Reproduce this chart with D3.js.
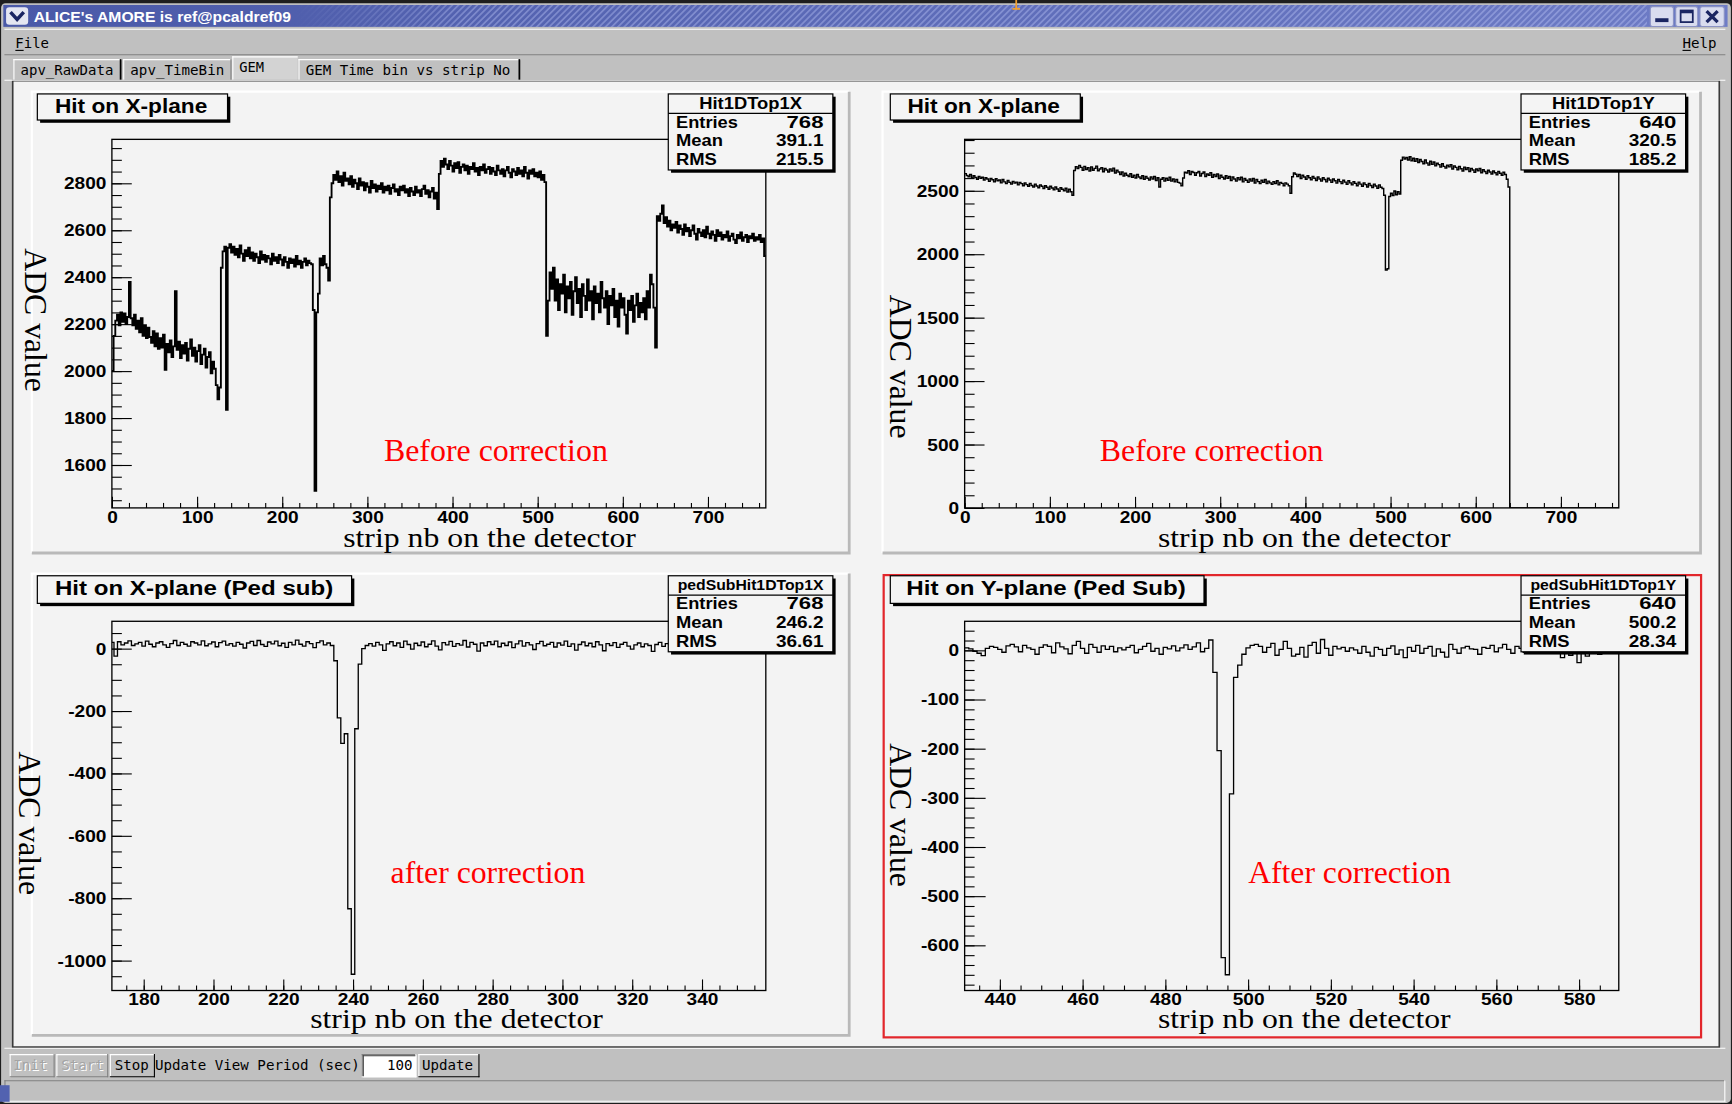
<!DOCTYPE html>
<html>
<head>
<meta charset="utf-8">
<script src="https://cdn.jsdelivr.net/npm/d3@7"></script>
<style>
html, body { margin: 0; padding: 0; background: #1e1e1e; overflow: hidden; }
svg { display: block; }
</style>
</head>
<body>
<svg id="screen" width="1732" height="1104"></svg>
<script>
// ---- data ----
// raw X plane, one value per pair of strips (768 strips)
var hitX = [
2000,2150,2215,2240,2195,2250,2210,2245,2200,2230,
2380,2225,2195,2240,2180,2215,2165,2225,2150,2195,
2140,2185,2145,2120,2170,2105,2160,2095,2140,2100,
2155,2005,2115,2080,2130,2060,2105,2340,2090,2125,
2055,2110,2075,2120,2045,2095,2135,2065,2100,2040,
2085,2110,2030,2070,2095,2015,2060,2080,1990,2040,
2010,1940,1880,1930,
2440,2510,2530,1835,2525,
2540,2505,2530,2495,2520,2485,2535,2500,2470,2515,
2490,2525,2480,2505,2470,2500,2485,2460,2510,2475,
2495,2465,2490,2480,2455,2500,2470,2485,2460,2495,
2475,2450,2485,2465,2440,2480,2460,2475,2445,2490,
2455,2470,2440,2465,2480,2450,2470,2460,2455,
2260,1490,2250,2330,2480,2450,2490,2455,2440,2385,
2740,
2800,2835,2815,2850,2805,2830,2790,2845,2810,2820,
2795,2830,2785,2815,2800,2775,2820,2790,2805,2770,
2800,2785,2760,2810,2780,2795,2765,2790,2775,2800,
2760,2785,2770,2790,2755,2780,2795,2765,2775,2750,
2785,2770,2790,2760,2775,2745,2780,2765,2750,2785,
2760,2770,2745,2775,2790,2755,2770,2740,2765,2780,
2735,2760,
2690,
2840,
2895,2870,2905,2880,2860,2895,2875,2850,2885,2865,
2890,2845,2870,2880,2855,2875,2840,2870,2860,2885,
2850,2865,2835,2870,2855,2880,2845,2860,2870,2840,
2865,2850,2835,2875,2855,2840,2860,2830,2855,2870,
2845,2825,2860,2850,2835,2865,2840,2855,2830,2870,
2845,2820,2855,2840,2860,2830,2845,2825,2850,2815,
2835,2805,
2150,
2300,2420,
2350,2440,2300,2390,2260,2370,2330,2410,2250,2360,
2310,2380,2240,2340,2400,2290,2350,2230,2370,2320,
2260,2390,2300,2340,2220,2360,2290,2330,2250,2380,
2310,2270,2340,2200,2320,2280,2350,2230,2300,2190,
2330,2270,2310,2240,2160,2300,2260,2320,2210,2280,
2330,2230,2290,2250,2310,2220,2340,2270,
2410,2370,2270,2100,
2660,2640,2670,2705,
2630,2655,2615,2640,2600,2625,2610,2635,2590,2620,
2605,2580,2625,2595,2610,2575,2600,2620,2585,2560,
2605,2590,2575,2600,2570,2615,2585,2565,2595,2580,
2555,2600,2575,2590,2560,2580,2570,2595,2555,2575,
2585,2560,2545,2580,2565,2590,2555,2570,2580,2550,
2575,2565,2585,2555,2570,2560,2580,2550,2565,
2490
];

// raw Y plane, one value per pair of strips, strips 640-767 are empty
var hitY = [
2635,2620,2610,2628,2600,2618,2604,2590,2612,2598,
2606,2584,2602,2592,2574,2596,2586,2570,2594,2578,
2584,2562,2588,2570,2556,2580,2566,2552,2574,2560,
2568,2546,2566,2556,2540,2562,2548,2536,2558,2542,
2530,2552,2538,2524,2546,2536,2518,2540,2528,2512,
2536,2522,2508,2530,2514,2496,2524,2512,2500,2520,
2490,2512,2492,2465,
2660,2690,
2675,2700,2684,2662,2692,2668,2682,2656,2688,2662,
2676,2694,2658,2672,2682,2650,2676,2664,2648,2672,
2656,2678,2640,2662,2648,2628,2648,2616,2638,2622,
2612,2634,2606,2622,2600,2628,2608,2596,2618,2590,
2612,2598,2584,2608,2592,2612,2580,2602,2530,2590,
2602,2576,2598,2582,2606,2576,2592,2570,2588,2566,
2560,
2540,
2600,2645,
2640,2658,2628,2652,2644,2622,2642,2652,2616,2636,
2648,2612,2632,2622,2642,2606,2628,2612,2632,2596,
2622,2606,2592,2618,2598,2612,2580,2608,2592,2576,
2602,2586,2606,2570,2596,2582,2566,2592,2576,2596,
2560,2588,2572,2556,2582,2566,2588,2556,2576,2562,
2550,2572,2556,2578,2546,2566,2558,2540,2562,2552,
2540,
2480,
2610,2640,
2630,2612,2628,2596,2622,2608,2590,2618,2602,2586,
2612,2598,2580,2608,2592,2576,2602,2588,2570,2598,
2584,2566,2592,2578,2560,2588,2572,2556,2582,2568,
2550,2578,2562,2546,2572,2558,2540,2568,2552,2536,
2562,2548,2530,2558,2542,2526,2552,2538,2520,2546,
2528,2518,
2465,1875,1885,2455,
2480,2462,2498,2468,2492,2475,
2740,2765,
2750,2762,2742,2768,2736,2756,2732,2752,2722,2746,
2730,2712,2742,2718,2702,2732,2708,2726,2696,2716,
2706,2686,2712,2692,2678,2702,2688,2706,2672,2696,
2684,2666,2692,2674,2656,2686,2668,2682,2652,2676,
2664,2646,2672,2658,2676,2642,2666,2652,2636,2662,
2648,2632,2656,2642,2626,2652,2638,2622,2646,2628,
2590,2530
];
var hitYNbins = 768;

// pedestal subtracted X plane, strips 171..358
var pedXFirst = 171;
var pedX = [
20,-24,
22,12,18,25,10,15,20,8,24,14,
6,18,22,12,4,16,26,10,20,14,
8,22,18,12,25,9,15,21,6,19,
24,11,16,8,20,14,2,18,23,10,
26,13,7,21,15,24,9,17,4,20,
12,27,14,8,22,16,3,19,25,12,
18,10,
-39,-222,-304,-273,-834,-1044,-257,-50,
0,
10,16,8,20,12,-6,15,22,9,18,
4,24,13,-2,17,10,21,6,14,25,
8,-4,19,12,23,7,16,11,26,5,
20,14,-8,18,9,22,13,24,6,17,
10,21,3,15,25,8,19,12,-3,16,
23,9,14,20,5,18,11,24,7,15,
-5,13,21,9,17,6,22,12,-7,16,
10,19,4,14,20,8,-2,12,18,6,
15,10,-9,13,20,7,16,11,22,5,
14,9,18,-4,12,8,17,10,6,15,
-6,11,19,8,13,4,16,9,12,-10,
14,7,10,5,12
];

// pedestal subtracted Y plane, strips 432..589
var pedYFirst = 432;
var pedY = [
5,3,-2,-6,-11,4,8,6,2,-4,
9,12,7,-3,10,5,2,-8,6,11,
8,-5,15,7,3,-7,10,18,4,-6,
12,6,-4,9,2,8,-3,5,1,6,
10,-5,2,8,14,-2,4,-8,6,3,
9,-1,5,11,2,7,15,-3,4,21,
-45,-204,-625,-660,-292,-55,-30,-8,5,
10,12,8,-4,6,14,-10,2,18,4,
-12,-8,6,-14,10,16,-6,22,4,-10,
8,3,6,-2,5,1,-6,8,-4,-12,
6,2,-10,4,9,-8,1,-15,6,-2,
10,-6,4,8,-12,3,-4,-14,12,2,
-6,5,8,3,2,-8,6,4,10,-3,
5,12,2,-6,8,4,-4,3,6,-2,
8,1,-5,4,2,-15,6,-10,8,-25,
4,-12,6,2,-8,5,3,-6,4
];

// axis ticks
var xTicksRaw = [0, 100, 200, 300, 400, 500, 600, 700];
var yTicksHitX = [1600, 1800, 2000, 2200, 2400, 2600, 2800];
var yTicksHitY = [0, 500, 1000, 1500, 2000, 2500];
var xTicksPedX = [180, 200, 220, 240, 260, 280, 300, 320, 340];
var yTicksPedX = [-1000, -800, -600, -400, -200, 0];
var xTicksPedY = [440, 460, 480, 500, 520, 540, 560, 580];
var yTicksPedY = [-600, -500, -400, -300, -200, -100, 0];

// texts
var padTitles = ["Hit on X-plane", "Hit on X-plane", "Hit on X-plane (Ped sub)", "Hit on Y-plane (Ped Sub)"];
var statNames = ["Hit1DTop1X", "Hit1DTop1Y", "pedSubHit1DTop1X", "pedSubHit1DTop1Y"];
var statEntries = ["768", "640", "768", "640"];
var statMean = ["391.1", "320.5", "246.2", "500.2"];
var statRms = ["215.5", "185.2", "36.61", "28.34"];
var notes = ["Before correction", "Before correction", "after correction", "After correction"];
var tabNames = ["apv_RawData", "apv_TimeBin", "GEM", "GEM Time bin vs strip No"];

// ---- layout (drawn in 1568x999 units, scaled to the window) ----
var svg = d3.select("#screen");
var defs = svg.append("defs");
var root = svg.append("g").attr("transform", "scale(" + (1732 / 1568) + "," + (1104 / 999) + ")");

var SANS = "'Liberation Sans', Arial, Helvetica, sans-serif";
var SERIF = "'Liberation Serif', 'Times New Roman', serif";
var MONO = "'DejaVu Sans Mono', monospace";
var CANVAS = "#f3f3f3";

function rect(g, x, y, w, h, fill, stroke, sw) {
    return g.append("rect").attr("x", x).attr("y", y).attr("width", w).attr("height", h)
        .attr("fill", fill || "none").attr("stroke", stroke || "none").attr("stroke-width", sw || 1);
}
function line(g, x1, y1, x2, y2, c, w) {
    return g.append("line").attr("x1", x1).attr("y1", y1).attr("x2", x2).attr("y2", y2)
        .attr("stroke", c).attr("stroke-width", w || 1);
}
function text(g, x, y, s, font, size, opts) {
    opts = opts || {};
    var t = g.append("text").attr("x", x).attr("y", y).text(s)
        .attr("font-family", font).attr("font-size", size)
        .attr("fill", opts.fill || "#000")
        .attr("font-weight", opts.bold ? "bold" : "normal")
        .attr("text-anchor", opts.anchor || "start");
    if (opts.len) t.attr("textLength", opts.len).attr("lengthAdjust", "spacingAndGlyphs");
    return t;
}
// raised/sunken 3d frame like the X11 widgets
function bevel(g, x, y, w, h, raised, dark) {
    var lt = raised ? "#ffffff" : "#808080", rb = raised ? "#808080" : "#ffffff";
    line(g, x, y + 0.5, x + w, y + 0.5, lt, 1);
    line(g, x + 0.5, y, x + 0.5, y + h, lt, 1);
    line(g, x, y + h - 0.5, x + w, y + h - 0.5, dark ? "#000" : rb, 1);
    line(g, x + w - 0.5, y, x + w - 0.5, y + h, dark ? "#000" : rb, 1);
}

// window and title bar
rect(root, 0, 0, 1568, 999, "#1e1e1e");
root.append("rect").attr("x", 1).attr("y", 3).attr("width", 1566).attr("height", 995).attr("rx", 4).attr("fill", "#c0c0c0");

var grad = defs.append("linearGradient").attr("id", "tbar").attr("x1", 0).attr("x2", 1).attr("y1", 0).attr("y2", 0);
grad.append("stop").attr("offset", 0).attr("stop-color", "#4a59a8");
grad.append("stop").attr("offset", 1).attr("stop-color", "#6e7cc6");
var hatch = defs.append("pattern").attr("id", "hatch").attr("patternUnits", "userSpaceOnUse")
    .attr("width", 4).attr("height", 4).attr("patternTransform", "rotate(45)");
hatch.append("rect").attr("width", 1.6).attr("height", 4).attr("fill", "#c8d0ff").attr("opacity", 0.35);
var fadeG = defs.append("linearGradient").attr("id", "fadeG").attr("gradientUnits", "userSpaceOnUse")
    .attr("x1", 265).attr("x2", 420).attr("y1", 0).attr("y2", 0);
fadeG.append("stop").attr("offset", 0).attr("stop-color", "#000");
fadeG.append("stop").attr("offset", 1).attr("stop-color", "#fff");
defs.append("mask").attr("id", "fade").attr("maskUnits", "userSpaceOnUse")
    .attr("x", 0).attr("y", 0).attr("width", 1568).attr("height", 30)
    .append("rect").attr("x", 265).attr("y", 0).attr("width", 1240).attr("height", 30).attr("fill", "url(#fadeG)");

rect(root, 3, 4.5, 1561, 19.8, "url(#tbar)");
root.append("rect").attr("x", 265).attr("y", 4.5).attr("width", 1226).attr("height", 19.8)
    .attr("fill", "url(#hatch)").attr("mask", "url(#fade)");
root.append("rect").attr("x", 5.5).attr("y", 6.5).attr("width", 20).attr("height", 16).attr("rx", 3).attr("fill", "#e4e6f2");
root.append("path").attr("d", "M9.5,11 L15.5,17.5 L21.5,11").attr("fill", "none").attr("stroke", "#1a2562").attr("stroke-width", 3.2);
text(root, 30.5, 19.8, "ALICE's AMORE is ref@pcaldref09", SANS, 13, { bold: true, fill: "#fff", len: 233 });

// window buttons
[[1494, 21], [1517, 20], [1539, 22]].forEach(function(b) {
    root.append("rect").attr("x", b[0]).attr("y", 6).attr("width", b[1]).attr("height", 18).attr("rx", 2)
        .attr("fill", "#d9dcef").attr("stroke", "#8a92c4");
});
rect(root, 1498.5, 16.5, 12, 3.5, "#1a2562");
rect(root, 1521.5, 9.5, 11, 10.5, "none", "#1a2562", 1.6);
rect(root, 1521.5, 9.5, 11, 2.5, "#1a2562");
root.append("path").attr("d", "M1545,10 L1555,20 M1555,10 L1545,20").attr("stroke", "#1a2562").attr("stroke-width", 3);

// cursor on the desktop
root.append("path").attr("d", "M920,0 V8 M916.5,8 H923.5").attr("stroke", "#f0a030").attr("stroke-width", 1.6);

// menu bar
line(root, 4, 26.5, 1562, 26.5, "#ffffff", 1);
line(root, 4, 49.5, 1562, 49.5, "#808080", 1);
text(root, 13.9, 43.7, "File", MONO, 12.8, { len: 30.5 });
line(root, 13.9, 45.6, 21.4, 45.6, "#000", 1);
text(root, 1554, 43.7, "Help", MONO, 12.8, { anchor: "end" });
line(root, 1523.2, 45.6, 1530.7, 45.6, "#000", 1);

// tabs
var tabX = [[12.1, 110.2], [111.5, 209.6], [210.3, 269.5], [270.2, 471.2]];
var tabLen = [84, 85, 22.5, 185.3];
tabNames.forEach(function(name, i) {
    var on = (name === "GEM");
    var x0 = tabX[i][0], x1 = tabX[i][1], top = on ? 51 : 53.5;
    rect(root, x0, top, x1 - x0, 73 - top, on ? "#d3d3d3" : "#c0c0c0");
    line(root, x0 + 0.5, top, x0 + 0.5, 73, "#ffffff", 1);
    line(root, x0, top + 0.5, x1, top + 0.5, "#ffffff", 1);
    if (i === 0 || i === 3) line(root, x1 - 1, top, x1 - 1, 73, "#000", 1.6);
    else if (!on) line(root, x1 - 0.5, top, x1 - 0.5, 73, "#808080", 1);
    text(root, x0 + (on ? 6.2 : 6.5), on ? 65.2 : 67.9, name, MONO, 12.8, { len: tabLen[i] });
});

// ROOT canvas area
rect(root, 11.5, 73, 1545, 874.5, CANVAS, "#3a3a3a", 1.5);
line(root, 4, 72.6, 1562, 72.6, "#ffffff", 1);

// ---- the four pads ----
var panels = [
    { pad: [28.8, 83, 768.8, 500.4], frame: [101.3, 126.1, 693.3, 459.6],
      xdom: [0, 768], ydom: [1417, 2987], xt: xTicksRaw, xm: 20, yt: yTicksHitX, ym: 50, ylen: 18,
      vals: hitX, lo0: 0, w: 2, tail: null, lw: 1.7,
      title: [33.8, 85, 206, 108.6, 49.7, 102.4, 138], stats: [605, 85, 754, 153.8],
      yTitle: [23, 289.6], xTitle: [443.2, 495], note: [347.6, 417.2, 202.7] },
    { pad: [799, 83, 1539.5, 500.4], frame: [873.3, 126.1, 1465.5, 459.6],
      xdom: [0, 768], ydom: [0, 2905], xt: xTicksRaw, xm: 20, yt: yTicksHitY, ym: 100, ylen: 18,
      vals: hitY, lo0: 0, w: 2, tail: hitYNbins, lw: 1.3,
      title: [806, 85, 978, 108.6, 821.5, 102.4, 138], stats: [1377, 85, 1526, 153.8],
      yTitle: [805.5, 331.8], xTitle: [1180.8, 495], note: [995.7, 417.2, 202.5] },
    { pad: [28.8, 519, 768.8, 936.8], frame: [101.3, 562.2, 693.3, 896.3],
      xdom: [170.9, 358.3], ydom: [-1096, 87.5], xt: xTicksPedX, xm: 5, yt: yTicksPedX, ym: 50, ylen: 18,
      vals: pedX, lo0: pedXFirst - 0.5, w: 1, tail: null, lw: 1.2,
      title: [33.8, 521, 318.3, 546, 49.7, 538.1, 252], stats: [605, 521, 754, 589.8],
      yTitle: [17.5, 745], xTitle: [413.3, 930], note: [353.6, 799.3, 176.3] },
    { pad: [800, 520.4, 1540, 938.7], frame: [873.3, 562.2, 1465.5, 896.3],
      xdom: [431.5, 589.6], ydom: [-692, 59], xt: xTicksPedY, xm: 5, yt: yTicksPedY, ym: 20, ylen: 19,
      vals: pedY, lo0: pedYFirst - 0.5, w: 1, tail: null, lw: 1.2, red: true,
      title: [806, 521, 1090, 546, 820.5, 538.1, 253], stats: [1377, 521, 1526, 589.8],
      yTitle: [805.5, 737.5], xTitle: [1180.8, 930], note: [1130, 799.3, 183.7] }
];

function histPath(x, y, P) {
    var v = P.vals;
    var p = "M" + x(P.lo0) + "," + y(v[0]);
    v.forEach(function(d, i) {
        if (i > 0) p += "V" + y(d);
        p += "H" + x(P.lo0 + (i + 1) * P.w);
    });
    if (P.tail != null) p += "V" + y(0) + "H" + x(P.tail);
    return p;
}

// ROOT labels are wide bold Helvetica: stretch the glyphs to the measured widths
function styleAxis(g) {
    g.select(".domain").remove();
    g.selectAll("line").attr("stroke", "#000").attr("stroke-width", 1);
    g.selectAll("text").attr("font-family", SANS).attr("font-weight", "bold")
        .attr("font-size", 15.5).attr("fill", "#000")
        .each(function() {
            var s = this.textContent;
            if (!s) return;
            var L = 0;
            for (var i = 0; i < s.length; i++) L += (s[i] === "-") ? 5.8 : 9.6;
            d3.select(this).attr("textLength", L).attr("lengthAdjust", "spacingAndGlyphs");
        });
}

function minorTicks(dom, step) {
    return d3.range(Math.ceil(dom[0] / step) * step, dom[1] + 1e-6, step);
}

function boxWithShadow(g, x0, y0, x1, y1) {
    rect(g, x0 + 2.5, y0 + 2.5, x1 - x0, y1 - y0, "#000");
    rect(g, x0, y0, x1 - x0, y1 - y0, "#f4f4f4", "#000", 1.1);
}

panels.forEach(function(P, k) {
    var g = root.append("g");
    var pd = P.pad, f = P.frame;

    // pad with its 3d border
    rect(g, pd[0], pd[1], pd[2] - pd[0], pd[3] - pd[1], CANVAS);
    if (P.red) {
        rect(g, pd[0], pd[1], pd[2] - pd[0], pd[3] - pd[1], "none", "#e2262b", 2);
    } else {
        g.append("path").attr("d", "M" + pd[0] + "," + pd[3] + "V" + pd[1] + "H" + pd[2])
            .attr("fill", "none").attr("stroke", "#ffffff").attr("stroke-width", 2);
        g.append("path").attr("d", "M" + pd[0] + "," + pd[3] + "H" + pd[2] + "V" + pd[1])
            .attr("fill", "none").attr("stroke", "#b9b9b9").attr("stroke-width", 2.5);
    }

    var x = d3.scaleLinear().domain(P.xdom).range([f[0], f[2]]);
    var y = d3.scaleLinear().domain(P.ydom).range([f[3], f[1]]);

    // histogram, clipped to the frame
    var cid = "clip" + k;
    defs.append("clipPath").attr("id", cid).append("rect")
        .attr("x", f[0]).attr("y", f[1]).attr("width", f[2] - f[0]).attr("height", f[3] - f[1]);
    g.append("path").attr("d", histPath(x, y, P)).attr("clip-path", "url(#" + cid + ")")
        .attr("fill", "none").attr("stroke", "#000").attr("stroke-width", P.lw)
        .attr("stroke-linejoin", "miter");

    // frame
    rect(g, f[0], f[1], f[2] - f[0], f[3] - f[1], "none", "#000", 1.2);

    // axes, ticks inside the frame
    var fmt = function(d) { return String(d); };
    var gxm = g.append("g").attr("transform", "translate(0," + f[3] + ")")
        .call(d3.axisBottom(x).tickValues(minorTicks(P.xdom, P.xm)).tickSizeInner(-4.5).tickSizeOuter(0).tickFormat(""));
    styleAxis(gxm);
    var gx = g.append("g").attr("transform", "translate(0," + f[3] + ")")
        .call(d3.axisBottom(x).tickValues(P.xt).tickSizeInner(-10).tickSizeOuter(0).tickPadding(2.5).tickFormat(fmt));
    styleAxis(gx);
    var gym = g.append("g").attr("transform", "translate(" + f[0] + ",0)")
        .call(d3.axisLeft(y).tickValues(minorTicks(P.ydom, P.ym)).tickSizeInner(-9).tickSizeOuter(0).tickFormat(""));
    styleAxis(gym);
    var gy = g.append("g").attr("transform", "translate(" + f[0] + ",0)")
        .call(d3.axisLeft(y).tickValues(P.yt).tickSizeInner(-P.ylen).tickSizeOuter(0).tickPadding(5).tickFormat(fmt));
    styleAxis(gy);

    // statistics box
    var s = P.stats;
    boxWithShadow(g, s[0], s[1], s[2], s[3]);
    line(g, s[0], s[1] + 17.5, s[2], s[1] + 17.5, "#000", 1.1);
    text(g, (s[0] + s[2]) / 2, s[1] + 13.3, statNames[k], SANS, k < 2 ? 15 : 13,
        { bold: true, anchor: "middle", len: k < 2 ? 93 : 132 });
    [["Entries", statEntries[k]], ["Mean", statMean[k]], ["RMS", statRms[k]]].forEach(function(r, j) {
        var by = s[1] + 30.5 + j * 16.8;
        text(g, s[0] + 7, by, r[0], SANS, 15.5, { bold: true, len: [56, 42.5, 37][j] });
        text(g, s[2] - 8.5, by, r[1], SANS, 15.5, { bold: true, anchor: "end",
            len: r[1].replace(".", "").length * 9.6 + 4.6 });
    });

    // pad title
    var t = P.title;
    boxWithShadow(g, t[0], t[1], t[2], t[3]);
    text(g, t[4], t[5], padTitles[k], SANS, 18, { bold: true, len: t[6] });

    // axis titles
    text(g, P.xTitle[0], P.xTitle[1], "strip nb on the detector", SERIF, 25.5, { anchor: "middle", len: 265 });
    text(g, 0, 0, "ADC value", SERIF, 29, { anchor: "middle", len: 130 })
        .attr("transform", "translate(" + P.yTitle[0] + "," + P.yTitle[1] + ") rotate(90)");

    // annotation
    text(g, P.note[0], P.note[1], notes[k], SERIF, 29, { fill: "#ff0000", len: P.note[2] });
});

// ---- bottom tool bar ----
line(root, 4, 948.5, 1562, 948.5, "#ffffff", 1);
var buttons = [
    { label: "Init", x: 8.7, w: 40.8, tx: 12.1, off: true },
    { label: "Start", x: 51, w: 47, tx: 55.4, off: true },
    { label: "Stop", x: 99.4, w: 40.9, tx: 103.9, off: false },
    { label: "Update", x: 378.7, w: 55.4, tx: 382.1, off: false }
];
buttons.forEach(function(b) {
    rect(root, b.x, 953.8, b.w, 21.1, "#c0c0c0");
    bevel(root, b.x, 953.8, b.w, 21.1, true, !b.off);
    if (b.off) text(root, b.tx + 1, 969.5, b.label, MONO, 12.8, { fill: "#ffffff" });
    text(root, b.tx, 968.5, b.label, MONO, 12.8, { fill: b.off ? "#a4a4a4" : "#000" });
});
text(root, 140.3, 968.5, "Update View Period (sec)", MONO, 12.8, { len: 185.4 });
rect(root, 327.4, 953.8, 49.6, 21.1, "#ffffff");
bevel(root, 327.4, 953.8, 49.6, 21.1, false, false);
line(root, 328.4, 955.3, 376, 955.3, "#404040", 1);
line(root, 328.9, 954.8, 328.9, 974, "#404040", 1);
text(root, 373.5, 968.5, "100", MONO, 12.8, { anchor: "end" });

// status bar
rect(root, 4, 977.5, 1558, 19.5, "#c0c0c0");
bevel(root, 4, 977.5, 1558, 19.5, false, false);
rect(root, 0, 982, 8.7, 15, "#5262b0");
</script>
</body>
</html>
